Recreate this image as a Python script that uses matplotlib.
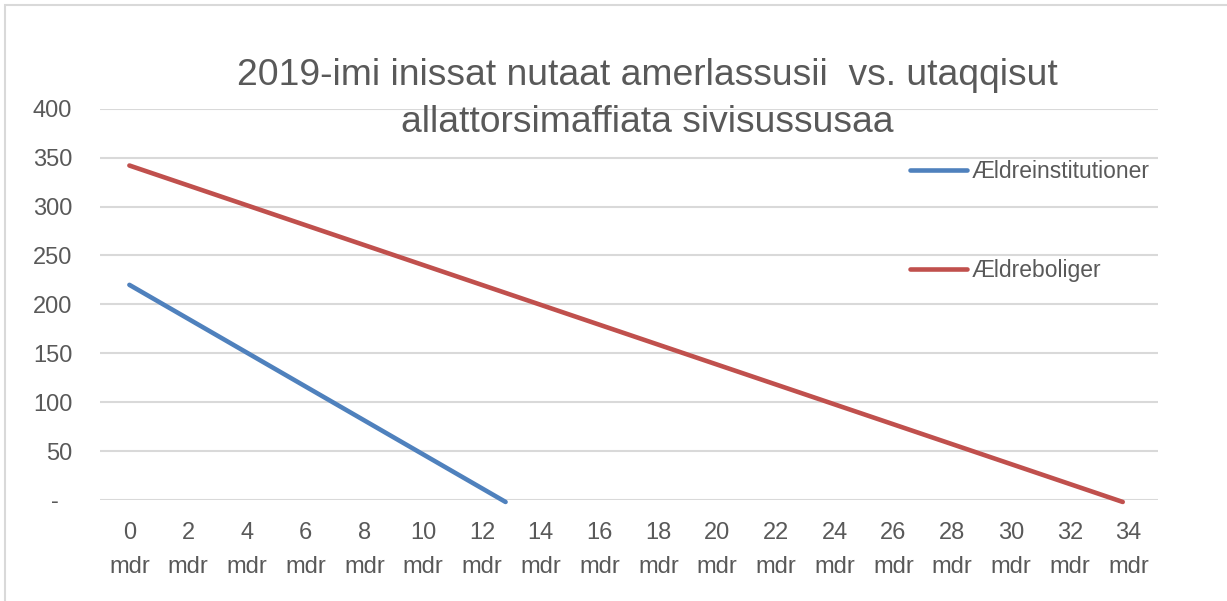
import matplotlib
matplotlib.use("Agg")
import matplotlib.pyplot as plt
from matplotlib.patches import Rectangle

plt.rcParams['font.family'] = ['Liberation Sans', 'DejaVu Sans']

# Data
months_ticks = list(range(0, 36, 2))
tick_labels = [f"{m}\nmdr" for m in months_ticks]
y_ticks = [0, 50, 100, 150, 200, 250, 300, 350, 400]
y_tick_labels = ["-  ", "50", "100", "150", "200", "250", "300", "350", "400"]

inst_x = [0, 12.8]
inst_y = [220, -2]
bolig_x = [0, 33.8]
bolig_y = [342, -2]

series_names = ["Ældreinstitutioner", "Ældreboliger"]
colors = ["#4F81BD", "#C0504D"]
title = "2019-imi inissat nutaat amerlassusii  vs. utaqqisut\nallattorsimaffiata sivisussusaa"

W, H = 1227, 601
fig = plt.figure(figsize=(W / 100, H / 100), dpi=100)
ax = fig.add_axes([100 / W, 1 - 500 / H, 1058 / W, 391.2 / H])

l1, = ax.plot(inst_x, inst_y, color=colors[0], lw=3.3, solid_capstyle='round', clip_on=False, zorder=3)
l2, = ax.plot(bolig_x, bolig_y, color=colors[1], lw=3.3, solid_capstyle='round', clip_on=False, zorder=3)

ax.set_xlim(-1, 35)
ax.set_ylim(0, 400)
ax.set_xticks(months_ticks)
ax.set_xticklabels(tick_labels, fontsize=17, color="#595959", linespacing=1.72)
ax.set_yticks(y_ticks)
ax.set_yticklabels(y_tick_labels, fontsize=17, color="#595959")
ax.tick_params(axis='both', length=0)
ax.tick_params(axis='x', pad=16)
ax.tick_params(axis='y', pad=20)
for s in ax.spines.values():
    s.set_visible(False)
ax.grid(axis='y', color="#D9D9D9", lw=1.5)
ax.set_axisbelow(True)

fig.text(647 / W, 1 - 99 / H, title, ha='center', va='center', fontsize=26.8,
         color="#595959", linespacing=1.45)

leg = fig.legend([l1, l2], series_names, loc='upper left',
                 bbox_to_anchor=(910 / W, 1 - 160 / H), frameon=False,
                 fontsize=16.5, labelcolor="#595959", handlelength=2.5,
                 handletextpad=0.2, labelspacing=3.3, borderpad=0, borderaxespad=0)

fig.patches.append(Rectangle((5 / W, -0.05), 1.1, 1 - 5 / H + 0.05, transform=fig.transFigure,
                             fill=False, edgecolor="#D9D9D9", lw=1.5))

fig.savefig("out.png", dpi=100)
